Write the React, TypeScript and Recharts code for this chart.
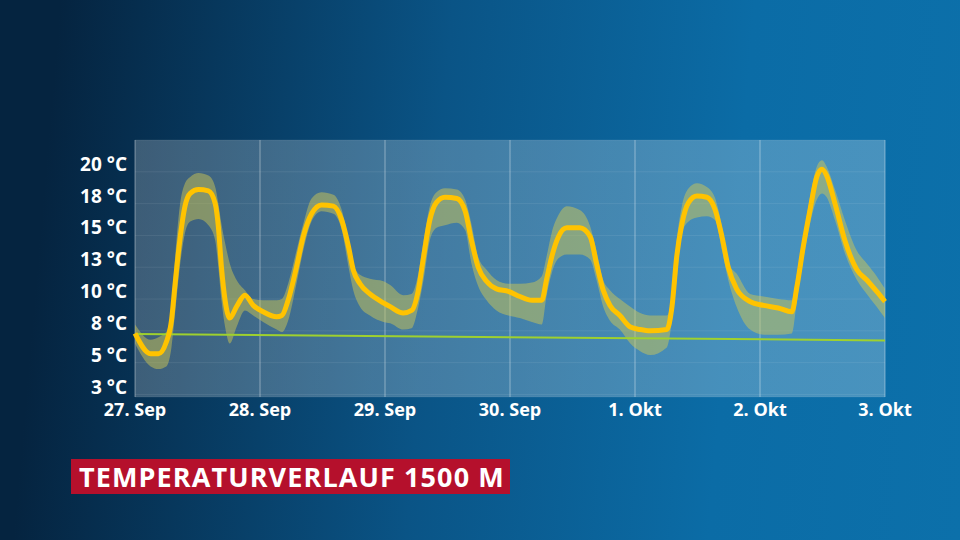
import React from "react"
import {
    ComposedChart,
    Area,
    Line,
    XAxis,
    YAxis,
    CartesianGrid,
} from "recharts"

// hours since 27 Sep 00:00
const hours = [
    0, 3, 4.5, 6, 7, 7.7, 8.6, 9.6, 10.6, 12.2, 14.1, 15.4, 16, 16.6, 17.3, 18.2, 19.5, 21.1, 22.7, 24.6,
    27.2, 28.2, 29.4, 31, 32.3, 33.9, 35.8, 38.1, 39.7, 41, 41.9, 43.2, 45.1, 47.7,
    49, 51.5, 53.1, 54.4, 55.4, 56.6, 57.9, 59.5, 61.8, 63.4, 64.6, 65.9, 67.5, 69.4, 71.7, 73.9, 76.2, 78.1, 79, 80,
    81.3, 82.9, 85.4, 87.4, 88.6, 89.9, 91.2, 93.1,
    95.1, 97, 98.9, 102.1, 103.1, 104, 105, 106.3, 107.9, 109.8, 111.4, 112.7, 113.9, 115.5, 118.1, 120.7, 123.5, 126.1, 127.1, 128.3,
    129.6, 130.9, 131.9, 132.8, 134.4, 136.3, 138.6, 140.5, 142.4, 144,
]

const temperature = [
    7.3, 5.7, 5.7, 6.6, 8.3, 11.2, 14.6, 17.3, 18.3, 18.6, 18.5, 17.5, 15.7, 12.5, 9.9, 8.5, 9.4, 10.3, 9.5, 9.0,
    8.6, 8.7, 9.9, 12.5, 14.9, 16.7, 17.4, 17.3, 16.2, 14.1, 12.3, 11.2, 10.4, 9.7,
    9.4, 8.9, 9.1, 10.7, 13.3, 16.2, 17.6, 18.0, 17.9, 16.9, 14.6, 12.5, 11.4, 10.8, 10.6, 10.2, 9.9, 9.9, 11.5, 13.3,
    14.9, 15.6, 15.6, 14.9, 12.8, 10.7, 9.5, 8.7,
    7.8, 7.6, 7.5, 7.6, 9.4, 13.3, 15.9, 17.6, 18.1, 18.0, 17.0, 14.9, 12.5, 10.8, 9.8, 9.5, 9.3, 9.0, 11.0, 14.1,
    17.0, 19.6, 20.2, 19.7, 17.5, 14.6, 12.3, 11.5, 10.6, 9.8,
]

const rangeLow = [
    6.5, 4.7, 4.5, 4.7, 6.2, 8.9, 12.5, 15.2, 16.1, 16.3, 15.8, 14.6, 12.5, 9.9, 7.8, 6.5, 7.8, 9.1, 8.7, 8.2,
    7.6, 7.4, 8.3, 11.2, 13.8, 16.1, 16.9, 16.7, 15.4, 12.5, 10.7, 9.4, 8.7, 8.2,
    8.1, 7.6, 7.7, 9.4, 11.5, 14.6, 15.6, 15.8, 16.0, 15.4, 12.8, 11.0, 9.9, 9.1, 8.7, 8.5, 8.2, 8.0, 10.2, 12.0,
    13.2, 13.5, 13.5, 13.1, 11.5, 9.4, 8.3, 7.6,
    6.5, 5.9, 5.6, 6.2, 8.3, 11.5, 15.2, 16.1, 16.4, 16.5, 16.2, 13.8, 11.5, 9.4, 7.6, 7.2, 7.2, 7.3, 9.9, 13.1,
    15.9, 17.8, 18.3, 18.0, 16.2, 13.6, 11.5, 10.4, 9.4, 8.5,
]

const rangeHigh = [
    8.0, 6.8, 7.0, 7.4, 9.4, 13.3, 17.3, 19.1, 19.6, 19.9, 19.7, 18.8, 17.5, 15.9, 14.4, 12.8, 11.5, 10.7, 10.0, 9.9,
    9.9, 10.0, 11.2, 13.8, 15.9, 17.9, 18.4, 18.2, 17.0, 14.6, 12.8, 11.9, 11.6, 11.4,
    11.1, 10.3, 10.4, 12.0, 14.6, 17.3, 18.4, 18.7, 18.6, 17.8, 15.9, 13.3, 12.3, 11.5, 11.2, 11.2, 11.3, 11.8, 13.3, 15.2,
    16.6, 17.3, 17.0, 15.7, 13.8, 11.5, 10.7, 10.0,
    9.4, 8.9, 8.7, 8.7, 10.2, 14.6, 17.3, 18.7, 19.1, 18.8, 17.9, 15.7, 12.8, 12.0, 10.4, 10.2, 10.0, 9.9, 12.0, 14.9,
    18.0, 20.4, 20.9, 20.4, 18.6, 16.2, 13.8, 12.8, 11.8, 10.8,
]

// reference line, read at start and end
const trendHours = [0, 144]
const trendValues = [7.25, 6.75]

const dayTicks = [0, 24, 48, 72, 96, 120, 144]
const dayLabels = ["27. Sep", "28. Sep", "29. Sep", "30. Sep", "1. Okt", "2. Okt", "3. Okt"]

const tempTicks = [2.5, 5, 7.5, 10, 12.5, 15, 17.5, 20]
const tempLabels = ["3 °C", "5 °C", "8 °C", "10 °C", "13 °C", "15 °C", "18 °C", "20 °C"]

const data = hours.map((h, i) => {
    const t = trendHours.indexOf(h)
    return {
        h,
        temp: temperature[i],
        band: [rangeLow[i], rangeHigh[i]],
        trend: t >= 0 ? trendValues[t] : null,
    }
})

const FONT = "'Open Sans', sans-serif"

function YTick({ x, y, payload }: any) {
    const idx = tempTicks.indexOf(payload.value)
    return (
        <text
            x={x}
            y={y - 6}
            textAnchor="end"
            dominantBaseline="middle"
            fill="#ffffff"
            fontFamily={FONT}
            fontWeight={700}
            fontSize={19}
        >
            {tempLabels[idx]}
        </text>
    )
}

function XTick({ x, y, payload }: any) {
    const idx = dayTicks.indexOf(payload.value)
    return (
        <text
            x={x}
            y={y + 6}
            textAnchor="middle"
            dominantBaseline="middle"
            fill="#ffffff"
            fontFamily={FONT}
            fontWeight={700}
            fontSize={18}
        >
            {dayLabels[idx]}
        </text>
    )
}

export default function App() {
    return (
        <div
            style={{
                position: "fixed",
                left: 0,
                top: 0,
                width: 960,
                height: 540,
                overflow: "hidden",
                background:
                    "linear-gradient(95deg, #052440 6%, #0a5486 45%, #0b6ca6 75%, #0c70aa 100%)",
            }}
        >
            <ComposedChart
                width={960}
                height={540}
                data={data}
                margin={{ top: 140, right: 75, left: 75, bottom: 113 }}
            >
                <defs>
                    <linearGradient id="plotBg" x1="0" y1="0" x2="1" y2="0">
                        <stop offset="0%" stopColor="#ffffff" stopOpacity={0.22} />
                        <stop offset="100%" stopColor="#ffffff" stopOpacity={0.25} />
                    </linearGradient>
                </defs>
                <CartesianGrid
                    vertical={false}
                    stroke="rgba(255,255,255,0.08)"
                    fill="url(#plotBg)"
                />
                <CartesianGrid horizontal={false} stroke="rgba(255,255,255,0.4)" />
                <XAxis
                    dataKey="h"
                    type="number"
                    domain={[0, 144]}
                    ticks={dayTicks}
                    tick={<XTick />}
                    axisLine={false}
                    tickLine={false}
                    height={30}
                    interval={0}
                />
                <YAxis
                    type="number"
                    domain={[2.3, 22.5]}
                    ticks={tempTicks}
                    tick={<YTick />}
                    axisLine={false}
                    tickLine={false}
                    width={60}
                    tickMargin={2}
                    interval={0}
                    allowDataOverflow
                />
                <Area
                    type="monotone"
                    dataKey="band"
                    stroke="none"
                    fill="#d2c852"
                    fillOpacity={0.48}
                    isAnimationActive={false}
                />
                <Line
                    type="linear"
                    dataKey="trend"
                    stroke="#9fd12e"
                    strokeWidth={2}
                    dot={false}
                    connectNulls
                    isAnimationActive={false}
                />
                <Line
                    type="monotone"
                    dataKey="temp"
                    stroke="#ffc300"
                    strokeWidth={5}
                    dot={false}
                    strokeLinejoin="round"
                    isAnimationActive={false}
                />
            </ComposedChart>
            <div
                style={{
                    position: "absolute",
                    left: 71,
                    top: 459,
                    width: 439,
                    height: 35,
                    background: "#b5102c",
                    color: "#ffffff",
                    fontFamily: FONT,
                    fontWeight: 700,
                    fontSize: 27,
                    lineHeight: "35px",
                    paddingLeft: 8,
                    boxSizing: "border-box",
                    whiteSpace: "nowrap",
                    letterSpacing: 1.1,
                }}
            >
                TEMPERATURVERLAUF 1500 M
            </div>
        </div>
    )
}
